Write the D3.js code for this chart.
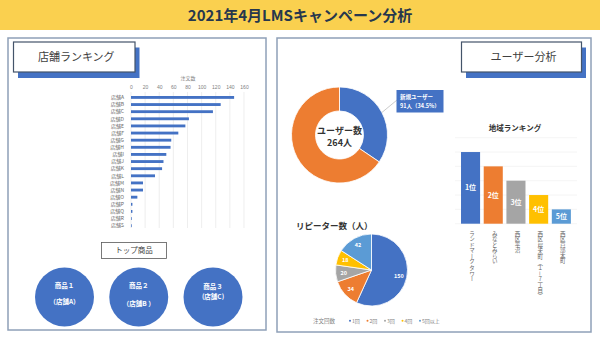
<!DOCTYPE html>
<html>
<head>
<meta charset="utf-8">
<script src="https://cdn.jsdelivr.net/npm/d3@7"></script>
<style>
  body { margin: 0; background: #fff; }
  svg { display: block; font-family: "Noto Sans CJK JP", "Noto Sans", sans-serif; }
</style>
</head>
<body>
<script>
const width = 600;
const height = 338;

// store ranking (注文数)
const stores = ["店舗A", "店舗B", "店舗C", "店舗D", "店舗E", "店舗F", "店舗G", "店舗H", "店舗I",
  "店舗J", "店舗K", "店舗L", "店舗M", "店舗N", "店舗O", "店舗P", "店舗Q", "店舗R", "店舗S"];
const storeOrders = [146, 127, 116, 82, 77, 67, 57, 56, 50, 46, 44, 34, 17, 17, 9, 2, 2, 1, 1];
const orderTicks = [0, 20, 40, 60, 80, 100, 120, 140, 160];

// top products
const products = ["商品１", "商品２", "商品３"];
const productStores = ["（店舗A）", "（店舗B ）", "(店舗C)"];

// users donut
const userParts = ["新規ユーザー", "リピーター"];
const userCounts = [91, 173];

// repeaters by order count
const repeatLabels = ["1回", "2回", "3回", "4回", "5回以上"];
const repeatCounts = [150, 34, 20, 18, 42];

// regional ranking
const regions = ["ランドマーク タワー", "みなとみらい", "西区平沼", "西区 桜木町（１－７丁目）", "西区戸部本町"];
const regionRanks = ["1位", "2位", "3位", "4位", "5位"];
const regionScores = [5, 4, 3, 2, 1];

const colors = ["#4472c4", "#ed7d31", "#a5a5a5", "#ffc000", "#5b9bd5"];

const svg = d3
  .select("body")
  .append("svg")
  .attr("width", width)
  .attr("height", height);

// title band
svg.append("rect").attr("x", 0).attr("y", 0).attr("width", width).attr("height", 30).attr("fill", "#fad04f");
svg.append("text")
  .attr("x", 300).attr("y", 21)
  .attr("text-anchor", "middle")
  .attr("font-size", 15).attr("font-weight", "bold")
  .attr("fill", "#26374d")
  .text("2021年4月LMSキャンペーン分析");

// panels
[[8, 38, 258, 292], [277, 38, 314, 294]].forEach(p => {
  svg.append("rect")
    .attr("x", p[0]).attr("y", p[1]).attr("width", p[2]).attr("height", p[3])
    .attr("fill", "#fff").attr("stroke", "#8fa0b8").attr("stroke-width", 1.5);
});

function headerBox(x, y, w, h, label) {
  svg.append("rect").attr("x", x + 4.5).attr("y", y + 5.5).attr("width", w).attr("height", h + 0.5).attr("fill", "#4472c4");
  svg.append("rect").attr("x", x).attr("y", y).attr("width", w).attr("height", h)
    .attr("fill", "#fff").attr("stroke", "#44546a").attr("stroke-width", 1.2);
  svg.append("text")
    .attr("x", x + w / 2 + 2).attr("y", y + h / 2 + 4)
    .attr("text-anchor", "middle").attr("font-size", 11).attr("fill", "#404040")
    .text(label);
}
headerBox(13.5, 42, 121.5, 30, "店舗ランキング");
headerBox(461.5, 42, 120, 30, "ユーザー分析");

// ---- store ranking bar chart
const x = d3.scaleLinear().domain([0, 160]).range([131, 244]);
const y = d3.scaleBand().domain(stores).range([96, 96 + stores.length * 6.9]).paddingInner(0.6);

svg.append("defs").append("clipPath").attr("id", "storeClip")
  .append("rect").attr("x", 90).attr("y", 70).attr("width", 170).attr("height", 158);

const storeG = svg.append("g").attr("clip-path", "url(#storeClip)");

storeG.selectAll(".grid")
  .data(orderTicks)
  .join("line")
  .attr("x1", d => x(d)).attr("x2", d => x(d))
  .attr("y1", 92).attr("y2", 228)
  .attr("stroke", "#e3e3e3").attr("stroke-width", 0.6);

const axis = svg.append("g")
  .attr("transform", "translate(0,90)")
  .call(d3.axisTop(x).tickValues(orderTicks).tickSize(0).tickPadding(1));
axis.select(".domain").remove();
axis.selectAll("text").attr("font-size", 5).attr("fill", "#808080").attr("font-family", "inherit");

svg.append("text").attr("x", 188).attr("y", 80).attr("text-anchor", "middle")
  .attr("font-size", 5).attr("fill", "#808080").text("注文数");

storeG.selectAll(".bar")
  .data(stores)
  .join("rect")
  .attr("x", x(0))
  .attr("y", d => y(d))
  .attr("width", (d, i) => x(storeOrders[i]) - x(0))
  .attr("height", y.bandwidth())
  .attr("fill", "#4472c4");

storeG.selectAll(".label")
  .data(stores)
  .join("text")
  .attr("x", 124)
  .attr("y", d => y(d) + y.bandwidth() / 2 + 1.8)
  .attr("text-anchor", "end").attr("font-size", 5).attr("fill", "#666")
  .text(d => d);

// ---- top products
svg.append("rect").attr("x", 101.5).attr("y", 242.5).attr("width", 65).attr("height", 16)
  .attr("fill", "#fff").attr("stroke", "#595959").attr("stroke-width", 0.8);
svg.append("text").attr("x", 134).attr("y", 253.3).attr("text-anchor", "middle")
  .attr("font-size", 7.5).attr("fill", "#404040").text("トップ商品");

const px = d3.scalePoint().domain(products).range([64.5, 213]);
const prodG = svg.selectAll(".prod").data(products).join("g")
  .attr("transform", d => `translate(${px(d)},297)`);
prodG.append("circle").attr("r", 29.5).attr("fill", "#4472c4");
prodG.append("text").attr("y", (d, i) => i === 2 ? -8.5 : -9.5).attr("text-anchor", "middle")
  .attr("font-size", 6.5).attr("font-weight", "bold").attr("fill", "#fff").text(d => d);
prodG.append("text").attr("y", (d, i) => i === 2 ? 2 : (i === 1 ? 9 : 7)).attr("text-anchor", "middle")
  .attr("font-size", 6.5).attr("font-weight", "bold").attr("fill", "#fff").text((d, i) => productStores[i]);

// ---- users donut
const donutG = svg.append("g").attr("transform", "translate(339.5,135)");
const pie = d3.pie().sort(null).value(d => d);
const donutArc = d3.arc().innerRadius(24).outerRadius(48);
const donutData = pie(userCounts);
donutG.selectAll("path").data(donutData).join("path")
  .attr("d", donutArc)
  .attr("fill", (d, i) => colors[i])
  .attr("stroke", "#fff").attr("stroke-width", 0.8);
donutG.append("text").attr("y", -1).attr("text-anchor", "middle")
  .attr("font-size", 9).attr("font-weight", "bold").attr("fill", "#333").text("ユーザー数");
donutG.append("text").attr("y", 11).attr("text-anchor", "middle")
  .attr("font-size", 9).attr("font-weight", "bold").attr("fill", "#333")
  .text(d3.sum(userCounts) + "人");

const edge = d3.arc().innerRadius(48).outerRadius(48).centroid(donutData[0]);
svg.append("line")
  .attr("x1", 339.5 + edge[0]).attr("y1", 135 + edge[1])
  .attr("x2", 397).attr("y2", 100)
  .attr("stroke", "#a6a6a6").attr("stroke-width", 0.6);
svg.append("rect").attr("x", 396.5).attr("y", 90).attr("width", 47).attr("height", 22.5).attr("fill", "#4472c4");
svg.append("text").attr("x", 400).attr("y", 98.5)
  .attr("font-size", 5.5).attr("font-weight", "bold").attr("fill", "#fff").text(userParts[0]);
const share = (userCounts[0] / d3.sum(userCounts) * 100).toFixed(1);
svg.append("text").attr("x", 400).attr("y", 107.5)
  .attr("font-size", 5.5).attr("font-weight", "bold").attr("fill", "#fff")
  .text(`${userCounts[0]}人（${share}%）`);

// ---- repeaters pie
svg.append("text").attr("x", 296).attr("y", 229)
  .attr("font-size", 8.5).attr("font-weight", "bold").attr("fill", "#333").text("リピーター数（人）");
const pieG = svg.append("g").attr("transform", "translate(371.5,270)");
const pieArc = d3.arc().innerRadius(0).outerRadius(36);
const labelArc = d3.arc().innerRadius(28).outerRadius(28);
const repData = pie(repeatCounts);
pieG.selectAll("path").data(repData).join("path")
  .attr("d", pieArc)
  .attr("fill", (d, i) => colors[i])
  .attr("stroke", "#fff").attr("stroke-width", 0.8);
pieG.selectAll(".val").data(repData).join("text")
  .attr("x", d => labelArc.centroid(d)[0])
  .attr("y", d => labelArc.centroid(d)[1] + 2)
  .attr("text-anchor", "middle").attr("font-size", 5.5).attr("font-weight", "bold").attr("fill", "#fff")
  .text(d => d.data);

svg.append("text").attr("x", 313).attr("y", 322.5)
  .attr("font-size", 5.5).attr("fill", "#808080").text("注文回数");
const lx = d3.scalePoint().domain(repeatLabels).range([350, 420]);
const legG = svg.selectAll(".leg").data(repeatLabels).join("g")
  .attr("transform", d => `translate(${lx(d)},320.7)`);
legG.append("circle").attr("r", 1).attr("fill", (d, i) => colors[i]);
legG.append("text").attr("x", 2).attr("y", 1.8).attr("font-size", 5).attr("fill", "#808080").text(d => d);

// ---- regional ranking
svg.append("text").attr("x", 515).attr("y", 131)
  .attr("text-anchor", "middle").attr("font-size", 7.5).attr("font-weight", "bold").attr("fill", "#333")
  .text("地域ランキング");
const rx = d3.scaleBand().domain(regions).range([459.2, 572.7]).paddingInner(0.16).paddingOuter(0.08);
const ry = d3.scaleLinear().domain([0, 6]).range([223.7, 137.7]);

svg.selectAll(".rgrid").data(d3.range(0, 7)).join("line")
  .attr("x1", 455).attr("x2", 577)
  .attr("y1", d => ry(d)).attr("y2", d => ry(d))
  .attr("stroke", "#eeeeee").attr("stroke-width", 0.6);

svg.selectAll(".rbar").data(regions).join("rect")
  .attr("x", d => rx(d))
  .attr("y", (d, i) => ry(regionScores[i]))
  .attr("width", rx.bandwidth())
  .attr("height", (d, i) => ry(0) - ry(regionScores[i]))
  .attr("fill", (d, i) => colors[i]);

svg.selectAll(".rlab").data(regions).join("text")
  .attr("x", d => rx(d) + rx.bandwidth() / 2)
  .attr("y", (d, i) => (ry(regionScores[i]) + ry(0)) / 2 + 2.5)
  .attr("text-anchor", "middle").attr("font-size", 7).attr("font-weight", "bold").attr("fill", "#fff")
  .text((d, i) => regionRanks[i]);

svg.selectAll(".rname").data(regions).join("text")
  .attr("x", d => rx(d) + rx.bandwidth() / 2 + 1.5)
  .attr("y", 231)
  .style("writing-mode", "vertical-rl")
  .attr("font-size", 5.5).attr("fill", "#666")
  .text(d => d);
</script>
</body>
</html>
